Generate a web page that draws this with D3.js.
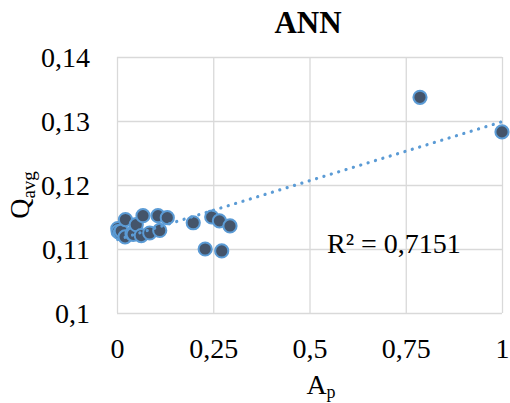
<!DOCTYPE html>
<html>
<head>
<meta charset="utf-8">
<script src="https://cdn.jsdelivr.net/npm/d3@7"></script>
<style>
  html, body { margin: 0; padding: 0; background: #fff; }
  svg { display: block; }
  text { font-family: "Liberation Serif", "Times New Roman", serif; fill: #000; }
</style>
</head>
<body>
<svg id="chart" width="510" height="403"></svg>
<script>
// Share of area (A_p) and mean flow (Q_avg) for each sample
const apValues = [0.002, 0.003, 0.008, 0.011, 0.021, 0.022, 0.039, 0.042, 0.050, 0.063,
                  0.0675, 0.085, 0.1065, 0.111, 0.1306, 0.198, 0.229, 0.246, 0.266, 0.272,
                  0.2935, 0.787, 1.0];
const qValues  = [0.1132, 0.1127, 0.1125, 0.1128, 0.1119, 0.1146, 0.1124, 0.1123, 0.1138, 0.1121,
                  0.1152, 0.1125, 0.1152, 0.1129, 0.1149, 0.1141, 0.1100, 0.1150, 0.1144, 0.1097,
                  0.1136, 0.1337, 0.1283];
const xTicks = [0, 0.25, 0.5, 0.75, 1];
const yTicks = [0.10, 0.11, 0.12, 0.13, 0.14];
const chartTitle = "ANN";
const r2Label = "R² = 0,7151";

const svg = d3.select("#chart");
const plot = { left: 117, right: 502, top: 57, bottom: 313 };

const x = d3.scaleLinear().domain([0, 1]).range([plot.left, plot.right]);
const y = d3.scaleLinear().domain([0.10, 0.14]).range([plot.bottom, plot.top]);

const locale = d3.formatLocale({ decimal: ",", thousands: " ", grouping: [3], currency: ["", ""] });
const fmt = locale.format(".2~f");

// Gridlines and tick labels
const xAxis = d3.axisBottom(x).tickValues(xTicks).tickFormat(fmt)
  .tickSize(-(plot.bottom - plot.top)).tickPadding(0);
const yAxis = d3.axisLeft(y).tickValues(yTicks).tickFormat(fmt)
  .tickSize(-(plot.right - plot.left)).tickPadding(27);

const gx = svg.append("g").attr("transform", `translate(0,${plot.bottom})`).call(xAxis);
const gy = svg.append("g").attr("transform", `translate(${plot.left},0)`).call(yAxis);

[gx, gy].forEach(g => {
  g.select(".domain").remove();
  g.selectAll(".tick line").attr("stroke", "#d9d9d9").attr("stroke-width", 1.3);
  g.selectAll(".tick text").attr("font-family", "Liberation Serif").attr("font-size", 28).attr("fill", "#000");
});
gx.selectAll(".tick text").attr("y", 45).attr("dy", 0);
gy.selectAll(".tick text").attr("dy", "0.34em");

// Linear least-squares trendline over the data range
const n = apValues.length;
const mx = d3.mean(apValues), my = d3.mean(qValues);
let sxy = 0, sxx = 0;
for (let i = 0; i < n; i++) {
  sxy += (apValues[i] - mx) * (qValues[i] - my);
  sxx += (apValues[i] - mx) ** 2;
}
const slope = sxy / sxx;
const intercept = my - slope * mx;
const [xMin, xMax] = d3.extent(apValues);
const trend = [xMin, xMax].map(v => [v, intercept + slope * v]);

// Points
const pts = apValues.map((v, i) => ({ ap: v, q: qValues[i] }));
svg.append("g").selectAll("circle").data(pts).join("circle")
  .attr("cx", d => x(d.ap))
  .attr("cy", d => y(d.q))
  .attr("r", 6.6)
  .attr("fill", "#44546a")
  .attr("stroke", "#5b9bd5")
  .attr("stroke-width", 2);

svg.append("path")
  .datum(trend)
  .attr("d", d3.line().x(d => x(d[0])).y(d => y(d[1])))
  .attr("fill", "none")
  .attr("stroke", "#5b9bd5")
  .attr("stroke-width", 3.2)
  .attr("stroke-linecap", "round")
  .attr("stroke-dasharray", "0.1 7.6");

// Title
svg.append("text")
  .attr("x", 308).attr("y", 33)
  .attr("text-anchor", "middle")
  .attr("font-size", 31).attr("font-weight", "bold")
  .text(chartTitle);

// R² annotation
svg.append("text")
  .attr("x", 327).attr("y", 253)
  .attr("font-size", 28)
  .text(r2Label);

// Axis titles
const xt = svg.append("text")
  .attr("x", 321).attr("y", 394)
  .attr("text-anchor", "middle")
  .attr("font-size", 28);
xt.append("tspan").text("A");
xt.append("tspan").attr("dy", 4).attr("font-size", 18).text("p");

const yt = svg.append("text")
  .attr("transform", "translate(29,195) rotate(-90)")
  .attr("text-anchor", "middle")
  .attr("font-size", 28);
yt.append("tspan").text("Q");
yt.append("tspan").attr("dy", 6).attr("font-size", 19).text("avg");
</script>
</body>
</html>
